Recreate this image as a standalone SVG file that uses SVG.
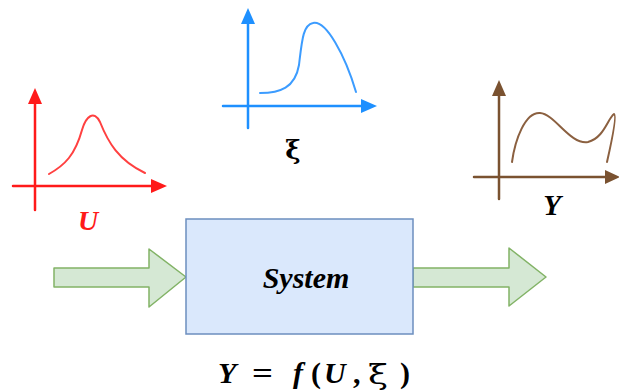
<svg xmlns="http://www.w3.org/2000/svg" width="619" height="392" viewBox="0 0 619 392">
<style>
.ax{fill:none;stroke-width:2.5;stroke-linecap:round}
.cv{fill:none;stroke-width:2;stroke-linecap:round}
.lbl{font-family:"Liberation Serif",serif;font-weight:bold;font-style:italic}
.fm{font-family:"Liberation Serif",serif;font-weight:bold;font-size:30px}
.it{font-style:italic}
.xi{font-family:"DejaVu Serif",serif;font-weight:bold}
.arrow{fill:#d5e8d4;stroke:#82b366;stroke-width:1.5;stroke-linejoin:round}
</style>
<rect width="619" height="392" fill="#fff"/>
<g id="graph-U">
<path class="ax" stroke="#ff1a1a" d="M35 210V100M13 186H154"/>
<path fill="#ff1a1a" d="M35 88L28 104H42Z M167 186L151 179V193Z"/>
<path class="cv" stroke="#ff4040" d="M49 174C65 165 75 155 82 130C86 116 94 110 100 122C108 142 118 160 145 173"/>
<text class="lbl" x="88" y="230" font-size="28" fill="#ff1a1a" text-anchor="middle">U</text>
</g>
<g id="graph-xi">
<path class="ax" stroke="#1e90ff" d="M248 128V20M223 106H362"/>
<path fill="#1e90ff" d="M248 8L241 24H255Z M377 106L361 99V113Z"/>
<path class="cv" stroke="#3c9cff" d="M260 93C280 93 295 88 299 65C302 40 303 25 313 23C326 20 345 55 356 92"/>
<text class="xi" x="293" y="159" font-size="26" text-anchor="middle">ξ</text>
</g>
<g id="graph-Y">
<path class="ax" stroke="#7a5230" d="M499 199V92M474 177H606"/>
<path fill="#7a5230" d="M499 80L492 96H506Z M620 177L605 170V184Z"/>
<path class="cv" stroke="#8b6040" d="M512 162C515 140 525 112 540 113C555 114 570 145 588 142C604 138 608 118 614 114C617 115 612 140 607 162"/>
<text class="lbl" x="552" y="215" font-size="29" text-anchor="middle">Y</text>
</g>
<g id="connectors">
<path class="arrow" d="M54 268H149V249L186 277L149 307V287H54Z"/>
<path class="arrow" d="M413 268H509V248L546 277L509 306V287H413Z"/>
</g>
<g id="system">
<rect x="186" y="219" width="227" height="115" fill="#dae8fc" stroke="#6c8ebf" stroke-width="1.5"/>
<text class="lbl" x="306" y="288" font-size="30" text-anchor="middle">System</text>
</g>
<g id="formula" class="fm">
<text x="218" y="383" class="it">Y</text>
<text x="252" y="383" textLength="21" lengthAdjust="spacingAndGlyphs">=</text>
<text x="293" y="383" class="it">f</text>
<text x="311" y="383">(</text>
<text x="324" y="383" class="it">U</text>
<text x="353" y="383">,</text>
<text x="368" y="384" font-family="DejaVu Serif,serif" font-weight="normal" font-size="27" textLength="20" lengthAdjust="spacingAndGlyphs">ξ</text>
<text x="400" y="383">)</text>
</g>
</svg>
